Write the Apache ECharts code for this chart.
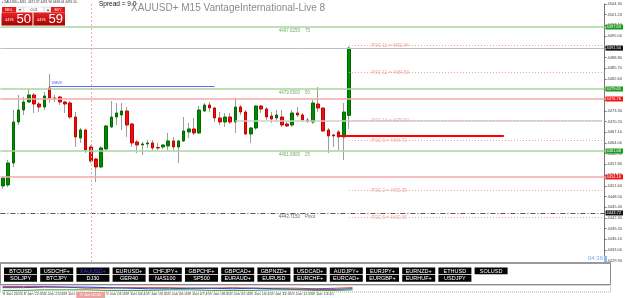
<!DOCTYPE html>
<html><head><meta charset="utf-8">
<script src="https://cdn.jsdelivr.net/npm/echarts@6/dist/echarts.min.js"></script>
<style>html,body{margin:0;padding:0;background:#fff;overflow:hidden}#c{width:625px;height:298px}</style>
</head><body><div id="c"></div>
<script>
// ---------- data ----------
const opens = [4451.55,4451.84,4458.21,4470.09,4473.57,4475.89,4477.92,4475.31,4474.44,4479.95,
4477.05,4477.34,4475.89,4475.60,4471.54,4465.46,4467.78,4462.85,4459.37,4457.05,
4462.27,4468.65,4471.54,4472.12,4473.28,4469.51,4464.30,4463.43,4463.72,4464.01,
4462.70,4462.85,4463.14,4464.59,4462.85,4464.59,4467.20,4468.07,4466.91,4473.28,
4475.02,4474.15,4471.25,4470.09,4471.54,4470.09,4474.44,4472.99,4466.62,4468.36,
4474.73,4473.86,4471.83,4471.25,4471.54,4469.51,4469.22,4472.70,4472.12,4470.67,
4470.09,4475.31,4474.15,4467.78,4466.33,4467.20,4465.75,4472.00];
const closes = [4453.87,4458.21,4470.09,4473.57,4475.89,4477.92,4475.31,4474.44,4477.63,4477.05,
4476.88,4475.89,4475.31,4471.54,4465.75,4467.78,4461.98,4458.79,4457.05,4462.56,
4468.94,4471.54,4472.70,4473.28,4469.22,4464.01,4463.43,4463.72,4464.01,4462.56,
4462.56,4463.43,4464.59,4462.85,4464.59,4467.49,4468.07,4466.91,4473.57,4475.02,
4474.15,4471.25,4470.09,4471.54,4470.09,4474.44,4472.99,4466.62,4468.36,4474.73,
4473.86,4471.54,4470.96,4472.12,4469.22,4468.94,4472.70,4472.12,4470.67,4470.38,
4475.60,4474.15,4467.49,4466.04,4466.04,4465.75,4472.99,4491.50];
const highs = [4454.45,4459.08,4473.57,4477.92,4477.34,4479.66,4478.50,4475.89,4478.79,4484.00,
4477.92,4477.63,4476.18,4476.18,4472.99,4468.36,4468.07,4463.43,4459.66,4463.14,
4469.22,4476.18,4475.60,4475.60,4474.44,4469.80,4464.88,4464.30,4464.88,4464.88,
4464.01,4463.43,4466.91,4465.75,4464.88,4471.54,4469.80,4471.25,4474.73,4475.60,
4475.89,4474.44,4472.99,4472.70,4472.70,4477.05,4475.02,4473.57,4468.65,4475.02,
4475.02,4474.44,4472.99,4473.57,4473.57,4470.09,4473.57,4474.44,4472.70,4471.25,
4476.47,4480.24,4474.15,4468.36,4466.62,4467.78,4475.60,4491.96];
const lows = [4450.68,4451.26,4457.05,4469.22,4472.12,4475.60,4472.70,4472.99,4473.57,4475.60,
4475.89,4475.02,4472.70,4470.96,4462.85,4464.01,4461.11,4458.21,4452.71,4456.76,
4461.98,4468.36,4469.22,4467.78,4465.75,4462.85,4461.11,4460.53,4462.56,4461.98,
4461.98,4462.27,4461.98,4461.98,4458.21,4464.30,4465.46,4466.33,4466.62,4472.99,
4472.99,4470.09,4469.22,4468.65,4469.51,4466.91,4472.12,4466.33,4464.01,4467.78,
4472.70,4470.67,4469.80,4470.09,4468.65,4468.65,4468.65,4471.54,4470.09,4469.80,
4469.51,4472.99,4467.20,4461.11,4462.85,4461.98,4459.08,4468.04];

const tickLabels = ["8 Jan 2026","8 Jan 22:45","8 Jan 23:45","9 Jan 01:45","9 Jan 02:45","9 Jan 03:45",
"9 Jan 04:45","9 Jan 05:45","9 Jan 06:45","9 Jan 07:45","9 Jan 08:45","9 Jan 09:45","9 Jan 10:45",
"9 Jan 11:45","9 Jan 12:45","9 Jan 13:45","9 Jan 14:45"];
const cursorLabel = "9 Jan 02:45";

const fibLevels = [4497.625, 4479.65, 4461.68];
const fibPercents = ["75", "50", "25"];
const pivotLevel = 4443.715;
const bidPrice = 4491.50;
const askPrice = 4491.59;
const redLevels = [4476.76, 4454.16];
const waveLevel = 4480.55;
const grayLevel = 4470.38;
const redSegLevel = 4466.04;
const pocNames = ["POC 11", "POC 12", "POC 14", "POC 6", "POC 2", "POC 5"];
const pocValues = [4492.44, 4484.59, 4470.67, 4464.73, 4450.39, 4442.56];

const priceTicks = {min: 4423.7, max: 4504.3, step: 3.1};

const symbolsRow1 = ["BTCUSD","USDCHF+","XAUUSD+","EURUSD+","CHFJPY+","GBPCHF+","GBPCAD+","GBPNZD+","USDCAD+","AUDJPY+","EURJPY+","EURNZD+","ETHUSD","SOLUSD"];
const symbolsRow2 = ["SOLJPY","BTCJPY","DJ30","GER40","NAS100","SP500","EURAUD+","EURUSD","EURCHF+","EURCAD+","EURGBP+","EURHUF+","USDJPY"];

const indRed   = [9,9,9,8,6,6,7,7,7,6,6,7,6,6,6,5,6,7];
const indBlue  = [7,7,8,8,8,7,6,5,5,6,6,5,6,5,4,4,4,5];
const indGreen = [2,2,3,3,3,2,2,2,3,3,2,2,2,3,3,2,2,3];

// ---------- build ----------
const FF = '"Liberation Sans", Arial, sans-serif';
const N = 117;
const cats = Array.from({length: N}, (_, i) => String(i));
const ohlc = opens.map((o, i) => [o, closes[i], lows[i], highs[i]]);
const bodies = opens.map((o, i) => [o, closes[i], Math.min(o, closes[i]), Math.max(o, closes[i])]);
const indX = indRed.map((_, i) => String(Math.min(i * 4, opens.length - 1)));

const boxLabel = (txt, bg) => ({show: true, position: 'end', formatter: txt, color: '#fff', backgroundColor: bg,
  fontSize: 4, fontFamily: FF, padding: [1, 2, 0, 1], distance: 1});
const seg = (a, b, v, ls) => [{coord: [String(a), v], lineStyle: ls, label: {show: false}}, {coord: [String(b), v]}];

const markData = [];
fibLevels.forEach(v => markData.push({yAxis: v, lineStyle: {color: '#a9d4a1', width: 1.5, type: 'solid'}, label: boxLabel(v.toFixed(2), '#1f9a1f')}));
redLevels.forEach(v => markData.push({yAxis: v, lineStyle: {color: '#f6a9a9', width: 1.5, type: 'solid'}, label: boxLabel(v.toFixed(2), '#f01414')}));
markData.push({yAxis: pivotLevel, lineStyle: {color: '#555', width: 1, type: [5, 2, 1, 2]}, label: boxLabel(pivotLevel.toFixed(2), '#111')});
markData.push({yAxis: bidPrice, lineStyle: {color: '#b9c0cc', width: 1, type: 'solid'}, label: boxLabel(bidPrice.toFixed(2), '#111')});
markData.push(seg(9, 41, waveLevel, {color: '#6a6aff', width: 1, type: 'solid'}));
markData.push(seg(45, 116, grayLevel, {color: '#cfcfcf', width: 1.5, type: 'solid'}));
pocValues.forEach(v => markData.push(seg(67, 116, v, {color: '#f2a2a2', width: 1, type: [1, 2]})));
markData.push(seg(65, 97, redSegLevel, {color: '#ff0000', width: 2, type: 'solid'}));
markData.push({xAxis: '17', lineStyle: {color: '#f2a5a5', width: 1, type: [2, 2]},
  label: {show: true, position: 'start', formatter: cursorLabel, backgroundColor: '#f0a0a0', color: '#fff',
    fontSize: 4, fontFamily: FF, padding: [1, 4], distance: 10}});

const textData = [];
fibLevels.forEach((v, i) => textData.push({value: ['53', v], label: {formatter: v.toFixed(4) + '    ' + fibPercents[i], color: '#4d9a40', offset: [0, 3.5]}}));
textData.push({value: ['53', pivotLevel], label: {formatter: pivotLevel.toFixed(4) + '    Pivot', color: '#444', offset: [0, 3.5]}});
pocValues.forEach((v, i) => textData.push({value: ['71', v], label: {formatter: pocNames[i] + ' = ' + v.toFixed(2), color: '#ee8c8c', offset: [0, 0.5]}}));
textData.push({value: ['9', waveLevel], label: {formatter: 'wave', color: '#4a4aff', offset: [0, -3]}});

// ---------- graphic (terminal UI) ----------
const G = [];
const txt = (x, y, s, fill, size, extra) => G.push(Object.assign({type: 'text', x: x, y: y, z: 100,
  style: Object.assign({text: s, fill: fill, fontSize: size, fontFamily: FF, verticalAlign: 'middle', align: 'left'}, extra || {})}));
const rect = (x, y, w, h, style) => G.push({type: 'rect', z: 100, shape: {x: x, y: y, width: w, height: h}, style: style});

txt(99, 4.5, 'Spread = 9.0', '#111', 6.5);
txt(131, 8, 'XAUUSD+ M15 VantageInternational-Live 8', '#8c8c8c', 10);
txt(2, 2.5, '\u25aa XAUUSD+,M15  4471.97 4491.96 4468.04 4491.50', '#333', 3.2);
rect(2, 7, 14, 5.5, {fill: '#e01b1b'});
txt(9, 9.8, 'SELL', '#fff', 3.5, {align: 'center'});
rect(16.5, 7, 7, 5.5, {fill: '#f3f3f3', stroke: '#ccc', lineWidth: 0.5});
txt(20, 9.8, '\u25be', '#333', 4, {align: 'center'});
rect(24, 7, 20, 5.5, {fill: '#fff', stroke: '#ccc', lineWidth: 0.5});
txt(34, 9.8, '0.01', '#333', 3.5, {align: 'center'});
rect(44, 7, 7, 5.5, {fill: '#f3f3f3', stroke: '#ccc', lineWidth: 0.5});
txt(47.5, 9.8, '\u25b4', '#333', 4, {align: 'center'});
rect(51, 7, 14, 5.5, {fill: '#e01b1b'});
txt(58, 9.8, 'BUY', '#fff', 3.5, {align: 'center'});
const grad = () => new echarts.graphic.LinearGradient(0, 0, 0, 1, [{offset: 0, color: '#e52424'}, {offset: 1, color: '#a80000'}]);
rect(1.5, 12.5, 31, 13, {fill: grad()});
rect(33.5, 12.5, 31.5, 13, {fill: grad()});
const bidStr = bidPrice.toFixed(2).split('.');
const askStr = askPrice.toFixed(2).split('.');
txt(5, 20, bidStr[0], '#fff', 4);
txt(16.5, 19.5, bidStr[1], '#fff', 13);
txt(37, 20, askStr[0], '#fff', 4);
txt(48.5, 19.5, askStr[1], '#fff', 13);

// countdown
txt(588, 258.5, '04:36', '#72a8f0', 6);
rect(604, 256, 3, 6, {fill: '#8db8f2'});

// symbol panel
rect(0.5, 263.5, 610, 21, {fill: '#fff', stroke: '#8a8a8a', lineWidth: 1});
G.push({type: 'line', z: 100, shape: {x1: 0, y1: 263, x2: 611, y2: 263}, style: {stroke: '#9a9a9a', lineWidth: 2}});
[symbolsRow1, symbolsRow2].forEach((row, r) => {
  row.forEach((s, i) => {
    const x = 4 + 36.2 * i, y = r === 0 ? 267.5 : 275;
    rect(x, y, 33, 6.8, {fill: '#050505'});
    txt(x + 16.5, y + 3.5, s, s === 'XAUUSD+' && r === 0 ? '#3b3bff' : '#fff', 5.5, {align: 'center'});
  });
});
// indicator strip frame
rect(0.5, 285.5, 610, 6.5, {fill: 'none', stroke: '#aaa', lineWidth: 1, lineDash: [1, 1]});

const chart = echarts.init(document.getElementById('c'), null, {renderer: 'canvas'});
chart.setOption({
  animation: false,
  backgroundColor: '#fff',
  grid: [{left: 0, right: 14, top: 4, bottom: 16},
         {left: 0, right: 14, top: 286, height: 5.5}],
  xAxis: [{type: 'category', data: cats, gridIndex: 0, boundaryGap: true,
    axisLine: {show: false}, axisTick: {show: false}, splitLine: {show: false},
    axisLabel: {show: true, interval: (i) => i % 4 === 0 && i / 4 < tickLabels.length && i !== 16,
      formatter: (v, i) => tickLabels[i / 4] || '', fontSize: 4, color: '#444', margin: 10, align: 'left', fontFamily: FF}},
    {type: 'category', data: cats, gridIndex: 1, show: false, boundaryGap: true}],
  yAxis: [{type: 'value', position: 'right', gridIndex: 0, min: priceTicks.min, max: priceTicks.max, interval: priceTicks.step,
    axisLine: {show: true, lineStyle: {color: '#777', width: 1}},
    axisTick: {show: true, length: 2, lineStyle: {color: '#777'}},
    splitLine: {show: false},
    axisLabel: {fontSize: 4, color: '#444', margin: 3, fontFamily: FF, formatter: v => v < 4428 ? '' : v.toFixed(2)}},
    {type: 'value', gridIndex: 1, min: 0, max: 10, show: false}],
  series: [
    {type: 'candlestick', name: 'wick', data: ohlc, barWidth: 1, silent: true, z: 2,
      itemStyle: {color: '#9d9d9d', color0: '#9d9d9d', borderColor: '#9d9d9d', borderColor0: '#9d9d9d', borderWidth: 1},
      markLine: {symbol: ['none', 'none'], silent: true, animation: false, data: markData}},
    {type: 'candlestick', name: 'body', data: bodies, barWidth: 3, silent: true, z: 3,
      itemStyle: {color: '#008a00', color0: '#ec1010', borderColor: '#006a00', borderColor0: '#c80000', borderWidth: 1}},
    {type: 'scatter', data: textData, symbolSize: 0, silent: true, z: 4,
      label: {show: true, position: 'right', distance: 2, fontSize: 4.5, fontFamily: FF}},
    {type: 'line', xAxisIndex: 1, yAxisIndex: 1, data: indRed.map((v, i) => [indX[i], v]), symbol: 'none', lineStyle: {color: '#e04040', width: 1}},
    {type: 'line', xAxisIndex: 1, yAxisIndex: 1, data: indBlue.map((v, i) => [indX[i], v]), symbol: 'none', lineStyle: {color: '#3040d0', width: 1}},
    {type: 'line', xAxisIndex: 1, yAxisIndex: 1, data: indGreen.map((v, i) => [indX[i], v]), symbol: 'none', lineStyle: {color: '#30a030', width: 1}}
  ],
  graphic: {elements: G}
});
</script>
</body></html>
